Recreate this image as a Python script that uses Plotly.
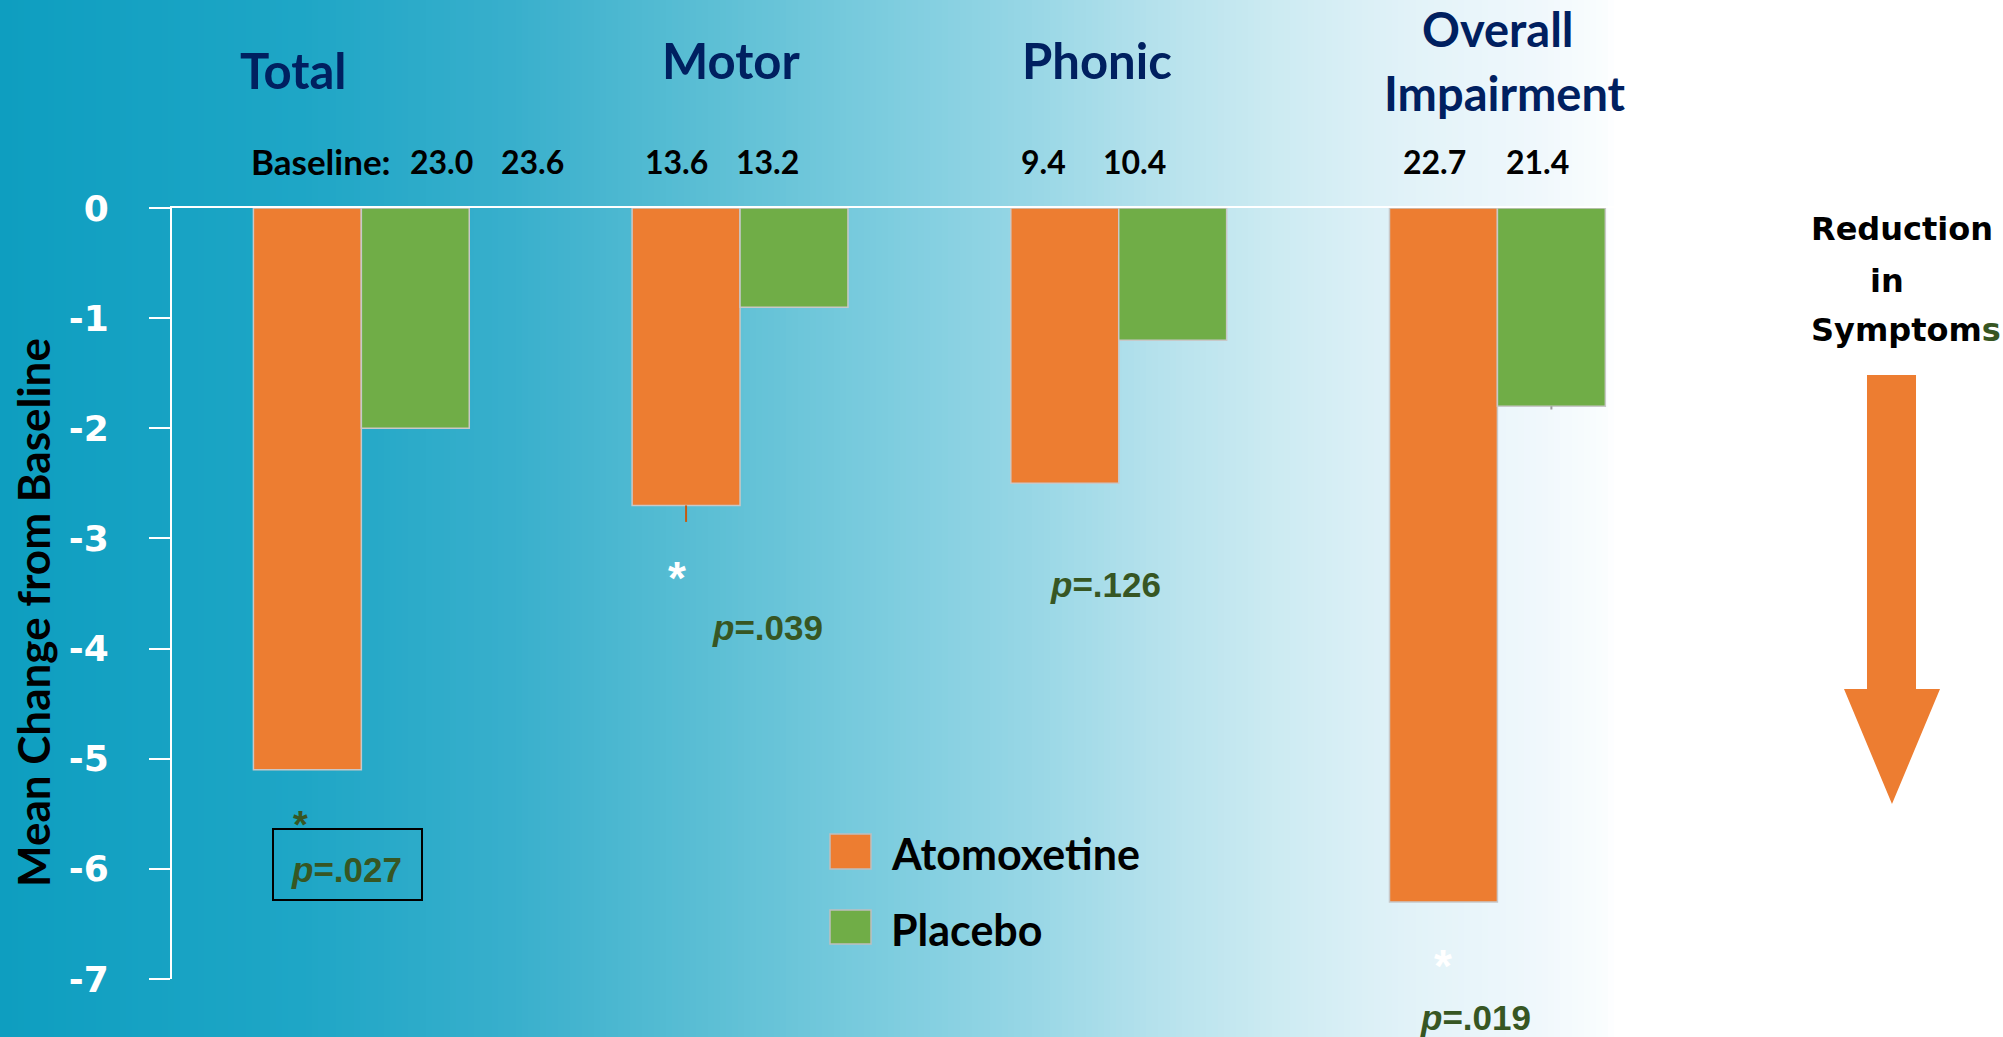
import plotly.graph_objects as go

# ---- data -------------------------------------------------------------
categories = ["Total", "Motor", "Phonic", "Overall Impairment"]
atomoxetine = [-5.1, -2.7, -2.5, -6.3]
placebo = [-2.0, -0.9, -1.2, -1.8]
atomoxetine_err = [0, 0.15, 0, 0]
placebo_err = [0, 0, 0, 0.03]
baseline_atx = ["23.0", "13.6", "9.4", "22.7"]
baseline_pbo = ["23.6", "13.2", "10.4", "21.4"]
p_values = [".027", ".039", ".126", ".019"]
y_ticks = [0, -1, -2, -3, -4, -5, -6, -7]

# ---- styling ----------------------------------------------------------
W, H = 2003, 1037
ORANGE = "#ED7D31"
GREEN = "#70AD47"
NAVY = "#002060"
DKGREEN = "#375623"
TITLE_FONT = "Lato, 'Open Sans', sans-serif"
PV_FONT = "'Liberation Sans', Arial, sans-serif"
VERD = "'DejaVu Sans', Verdana, sans-serif"


def px(x):
    return x / W


def py(y):
    return 1 - y / H


fig = go.Figure()

fig.add_trace(go.Bar(
    x=categories, y=atomoxetine, name="Atomoxetine",
    marker=dict(color=ORANGE, line=dict(color="#C8C8C8", width=1.5)),
    error_y=dict(type="data", symmetric=False, array=[0] * 4,
                 arrayminus=atomoxetine_err, color="#C55A11",
                 thickness=2, width=0),
))
fig.add_trace(go.Bar(
    x=categories, y=placebo, name="Placebo",
    marker=dict(color=GREEN, line=dict(color="#C8C8C8", width=1.5)),
    error_y=dict(type="data", symmetric=False, array=[0] * 4,
                 arrayminus=placebo_err, color="#9a9a9a",
                 thickness=2, width=0),
))

# ---- horizontal background gradient (teal -> white) --------------------
stops = [
    (0, (14, 158, 192)), (300, (30, 166, 198)), (511, (56, 175, 204)),
    (700, (90, 190, 212)), (894, (126, 205, 223)), (1024, (150, 214, 229)),
    (1150, (180, 225, 236)), (1280, (205, 235, 242)), (1405, (225, 242, 248)),
    (1540, (240, 248, 252)), (1605, (250, 253, 254)), (1615, (255, 255, 255)),
]


def grad_color(x):
    for (x0, c0), (x1, c1) in zip(stops[:-1], stops[1:]):
        if x0 <= x <= x1:
            t = (x - x0) / (x1 - x0)
            return "rgb(%d,%d,%d)" % tuple(round(a + (b - a) * t) for a, b in zip(c0, c1))
    return "rgb(255,255,255)"


shapes = []
step = 6
for x in range(0, 1620, step):
    shapes.append(dict(type="rect", xref="paper", yref="paper", layer="below",
                       x0=px(x), x1=px(x + step + 0.6), y0=0, y1=1,
                       line=dict(width=0), fillcolor=grad_color(x + step / 2)))

# box round the first p-value
shapes.append(dict(type="rect", xref="paper", yref="paper",
                   x0=px(273), x1=px(422), y0=py(900), y1=py(829),
                   line=dict(color="black", width=2), fillcolor="rgba(0,0,0,0)"))

# legend swatches
shapes.append(dict(type="rect", xref="paper", yref="paper",
                   x0=px(830), x1=px(871), y0=py(869), y1=py(834),
                   line=dict(color="#BFBFBF", width=1.5), fillcolor=ORANGE))
shapes.append(dict(type="rect", xref="paper", yref="paper",
                   x0=px(830), x1=px(871), y0=py(944), y1=py(910),
                   line=dict(color="#BFBFBF", width=1.5), fillcolor=GREEN))

# downward arrow on the right
arrow_pts = [(1867, 375), (1916, 375), (1916, 689), (1940, 689), (1892, 804),
             (1844, 689), (1867, 689)]
path = "M " + " L ".join("%.5f,%.5f" % (px(a), py(b)) for a, b in arrow_pts) + " Z"
shapes.append(dict(type="path", xref="paper", yref="paper", path=path,
                   fillcolor=ORANGE, line=dict(width=0)))

# ---- text ------------------------------------------------------------
ann = []


def text(x, y, s, size, color="black", family=TITLE_FONT, xanchor="center",
         weight="bold", textangle=0, align="center"):
    ann.append(dict(x=px(x), y=py(y), xref="paper", yref="paper", text=s,
                    showarrow=False, xanchor=xanchor, yanchor="middle",
                    textangle=textangle, align=align,
                    font=dict(family=family, size=size, color=color, weight=weight)))


# group titles
text(293, 70, "Total", 49, NAVY)
text(731, 60, "Motor", 49, NAVY)
text(1097, 60, "Phonic", 49, NAVY)
text(1498, 29, "Overall", 47, NAVY)
text(1505, 93, "Impairment", 47, NAVY)

# baseline scores
base_pos = [(441, 532), (676, 767), (1043, 1134), (1434, 1537)]
text(393, 161, "Baseline:", 35, xanchor="right")
for (xa, xb), a, b in zip(base_pos, baseline_atx, baseline_pbo):
    text(xa, 161, a, 32)
    text(xb, 161, b, 32)

# significance markers and p-values
p_pos = [(346, 869), (767, 627), (1105, 584), (1475, 1017)]
for (x, y), p in zip(p_pos, p_values):
    text(x, y, "<i>p</i>=" + p, 35, DKGREEN, PV_FONT)
text(300, 825, "*", 38, DKGREEN, PV_FONT)
text(677, 578, "*", 46, "white", PV_FONT)
text(1443, 966, "*", 46, "white", PV_FONT)

# legend labels
text(889, 853, "Atomoxetine", 43, xanchor="left")
text(889, 929, "Placebo", 43, xanchor="left")

# y-axis title
text(33, 613, "Mean Change from Baseline", 44, textangle=-90)

# right-hand note
text(1902, 229, "Reduction", 32, family=VERD)
text(1887, 281, "in", 32, family=VERD)
text(1906, 330, "Symptom<span style='color:%s'>s</span>" % DKGREEN, 32, family=VERD)

fig.update_layout(
    width=W, height=H,
    margin=dict(l=0, r=0, t=0, b=0, autoexpand=False),
    paper_bgcolor="white",
    plot_bgcolor="rgba(0,0,0,0)",
    barmode="group", bargap=0.43, bargroupgap=0,
    showlegend=False,
    shapes=shapes, annotations=ann,
    xaxis=dict(domain=[px(172), px(1618.6)], range=[-0.5, 3.32],
               side="top", showline=True, linecolor="white", linewidth=2,
               showticklabels=False, ticks="", showgrid=False, zeroline=False,
               automargin=False, fixedrange=True),
    yaxis=dict(domain=[py(979), py(208)], range=[-7, 0],
               tickvals=y_ticks, ticktext=[str(v) for v in y_ticks],
               ticks="outside", ticklen=21, tickwidth=2, tickcolor="white",
               showline=True, linecolor="white", linewidth=2,
               showgrid=False, zeroline=False, ticklabelstandoff=33,
               tickfont=dict(family=VERD, size=36, color="white", weight="bold"),
               automargin=False, fixedrange=True),
)

fig.write_html("out.html")
